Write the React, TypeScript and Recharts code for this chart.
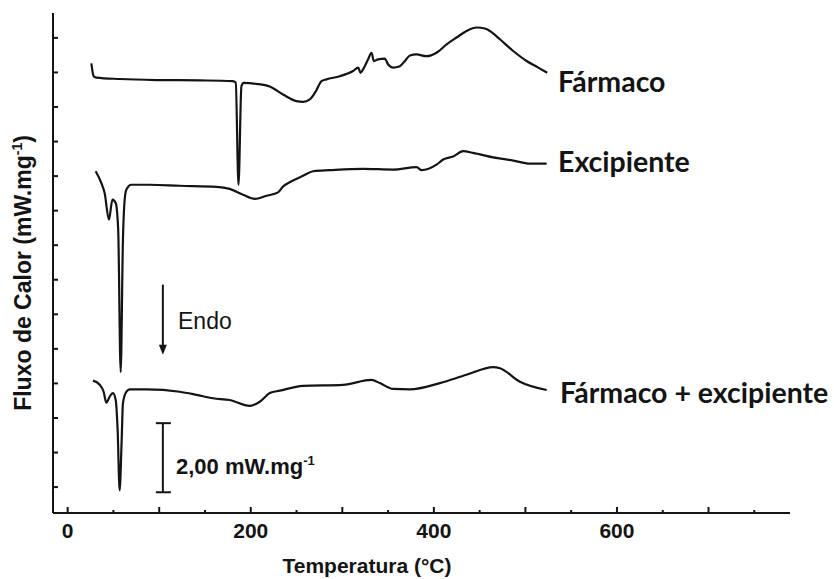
import React from 'react';
import { LineChart, Line, XAxis, YAxis, ReferenceLine } from 'recharts';

// ─── Data (temperatura °C / fluxo de calor, offset por curva) ────────────────

const farmacoT = [
  25.9, 28.4, 31.4, 56.8, 96.9, 144.3, 180.3, 183.6, 186.6, 189.8, 192.3, 206.2, 220.8, 235.3,
  249.9, 257.2, 264.5, 271.0, 277.3, 282.7, 297.3, 311.8, 317.3, 319.9, 322.7, 328.2, 331.9,
  334.4, 339.1, 346.4, 350.1, 355.5, 362.8, 368.3, 373.8, 381.1, 392.0, 402.9, 413.9, 424.8,
  435.7, 446.7, 455.7, 461.2, 472.1, 486.7, 501.3, 514.0, 523.8,
];
const farmacoY = [
  12.26, 11.89, 11.85, 11.81, 11.78, 11.77, 11.75, 11.7, 8.75, 11.6, 11.7, 11.67, 11.59, 11.36,
  11.17, 11.15, 11.22, 11.45, 11.75, 11.8, 11.89, 12.04, 12.14, 11.99, 12.09, 12.38, 12.57,
  12.33, 12.38, 12.4, 12.23, 12.14, 12.18, 12.33, 12.49, 12.52, 12.47, 12.57, 12.81, 13.01,
  13.2, 13.3, 13.27, 13.2, 12.96, 12.62, 12.33, 12.14, 11.99,
];

const excipienteT = [
  30.6, 36.8, 40.4, 45.1, 48.9, 52.5, 55.2, 57.9, 60.4, 62.3, 64.2, 69.6, 89.6, 122.4, 162.5,
  177.0, 191.6, 204.4, 217.2, 229.8, 235.3, 244.5, 257.2, 268.1, 286.3, 322.7, 355.5, 381.1,
  386.6, 402.9, 410.2, 421.1, 432.0, 442.9, 464.8, 486.7, 504.9, 523.2,
];
const excipienteY = [
  9.14, 8.8, 8.51, 7.74, 8.32, 8.22, 7.45, 3.33, 7.16, 8.32, 8.61, 8.75, 8.75, 8.72, 8.69,
  8.63, 8.46, 8.34, 8.43, 8.53, 8.7, 8.85, 9.01, 9.14, 9.17, 9.21, 9.19, 9.26,
  9.17, 9.33, 9.48, 9.57, 9.72, 9.67, 9.54, 9.45, 9.36, 9.36,
];

const misturaT = [
  27.7, 35.0, 39.3, 42.3, 45.9, 49.5, 52.5, 54.6, 56.8, 59.0, 60.4, 64.2, 67.8, 86.0, 122.4,
  140.7, 158.8, 177.0, 198.9, 209.8, 220.8, 231.7, 257.2, 300.9, 331.9, 341.0, 355.5, 373.8,
  406.6, 435.7, 464.8, 472.1, 494.0, 523.2,
];
const misturaY = [
  3.08, 2.96, 2.76, 2.44, 2.62, 2.72, 2.52, 1.65, -0.09, 1.36, 2.43, 2.76, 2.83, 2.83, 2.76,
  2.67, 2.57, 2.52, 2.35, 2.47, 2.72, 2.79, 2.93, 2.96, 3.1, 3.01, 2.84, 2.83,
  3.01, 3.25, 3.47, 3.44, 3.05, 2.81,
];

const xTicks = [0, 50, 100, 150, 200, 250, 300, 350, 400, 450, 500, 550, 600, 650, 700, 750];
const yTicks = [0, 1, 2, 3, 4, 5, 6, 7, 8, 9, 10, 11, 12, 13];

// escala de 2,00 mW.mg-1 e seta "Endo"
const scaleBarT = 104;
const scaleBarY = [-0.15, 1.85];
const endoArrowY = [5.86, 3.83];

const toRows = (t: number[], y: number[]) => t.map((v, i) => ({ t: v, y: y[i] }));

const INK = '#141414';
const AXIS_FONT = "'Liberation Sans', Arial, sans-serif";
const LABEL_FONT = "Lato, 'Open Sans', sans-serif";

const XTick = ({ x, y, payload }: any) => {
  const v = payload.value;
  const major = v % 100 === 0;
  return (
    <g>
      <line x1={x} x2={x} y1={y} y2={y - (major ? 6 : 3)} stroke={INK} strokeWidth={2} />
      {v % 200 === 0 && (
        <text x={x} y={y + 25} textAnchor="middle" fontFamily={AXIS_FONT} fontWeight="bold" fontSize={21} fill={INK}>
          {v}
        </text>
      )}
    </g>
  );
};

const YTick = ({ x, y }: any) => (
  <line x1={x} x2={x + 5} y1={y} y2={y} stroke={INK} strokeWidth={2} />
);

const ScaleBar = ({ x1, y1, y2 }: any) => (
  <g stroke={INK} strokeWidth={2}>
    <line x1={x1} x2={x1} y1={y1} y2={y2} />
    <line x1={x1 - 7} x2={x1 + 8} y1={y1} y2={y1} />
    <line x1={x1 - 7} x2={x1 + 8} y1={y2} y2={y2} />
  </g>
);

const Arrow = ({ x1, y1, y2 }: any) => (
  <g>
    <line x1={x1} x2={x1} y1={y1} y2={y2 - 8} stroke={INK} strokeWidth={2} />
    <polygon points={`${x1 - 4},${y2 - 10} ${x1 + 4},${y2 - 10} ${x1},${y2}`} fill={INK} />
  </g>
);

export default function App() {
  return (
    <div style={{ position: 'absolute', left: 0, top: 0, width: 834, height: 579, background: '#fff' }}>
      <LineChart width={834} height={579} margin={{ top: 13, right: 44, left: 0, bottom: 0 }}>
        <XAxis
          type="number"
          dataKey="t"
          domain={[-16, 789]}
          allowDataOverflow
          ticks={xTicks}
          interval={0}
          height={66}
          tickSize={0}
          tickMargin={0}
          tickLine={false}
          axisLine={{ stroke: INK, strokeWidth: 2 }}
          tick={<XTick />}
        />
        <YAxis
          type="number"
          domain={[-0.75, 13.72]}
          allowDataOverflow
          ticks={yTicks}
          interval={0}
          width={53}
          tickSize={0}
          tickMargin={0}
          tickLine={false}
          axisLine={{ stroke: INK, strokeWidth: 2 }}
          tick={<YTick />}
        />
        <Line data={toRows(farmacoT, farmacoY)} dataKey="y" type="monotone" stroke={INK} strokeWidth={2.2} dot={false} isAnimationActive={false} />
        <Line data={toRows(excipienteT, excipienteY)} dataKey="y" type="monotone" stroke={INK} strokeWidth={2.2} dot={false} isAnimationActive={false} />
        <Line data={toRows(misturaT, misturaY)} dataKey="y" type="monotone" stroke={INK} strokeWidth={2.2} dot={false} isAnimationActive={false} />
        <ReferenceLine
          segment={[{ x: scaleBarT, y: scaleBarY[1] }, { x: scaleBarT, y: scaleBarY[0] }]}
          shape={<ScaleBar />}
        />
        <ReferenceLine
          segment={[{ x: scaleBarT, y: endoArrowY[0] }, { x: scaleBarT, y: endoArrowY[1] }]}
          shape={<Arrow />}
        />

        {/* textos */}
        <g fill={INK}>
          <text x={558} y={92} fontFamily={LABEL_FONT} fontWeight="bold" fontSize={28.5}>Fármaco</text>
          <text x={558} y={172} fontFamily={LABEL_FONT} fontWeight="bold" fontSize={28.5}>Excipiente</text>
          <text x={560} y={403} fontFamily={LABEL_FONT} fontWeight="bold" fontSize={28.5}>Fármaco + excipiente</text>
          <text x={178} y={329} fontFamily={AXIS_FONT} fontSize={23}>Endo</text>
          <text x={176} y={474} fontFamily={AXIS_FONT} fontWeight="bold" fontSize={22}>
            2,00 mW.mg<tspan dy={-9} fontSize={13}>-1</tspan>
          </text>
          <text x={367} y={573} textAnchor="middle" fontFamily={AXIS_FONT} fontWeight="bold" fontSize={21}>
            Temperatura (°C)
          </text>
          <text
            transform="translate(31, 273) rotate(-90)"
            textAnchor="middle"
            fontFamily={AXIS_FONT}
            fontWeight="bold"
            fontSize={23}
          >
            Fluxo de Calor (mW.mg<tspan dy={-9} fontSize={14}>-1</tspan>
            <tspan dy={9}>)</tspan>
          </text>
        </g>
      </LineChart>
    </div>
  );
}
